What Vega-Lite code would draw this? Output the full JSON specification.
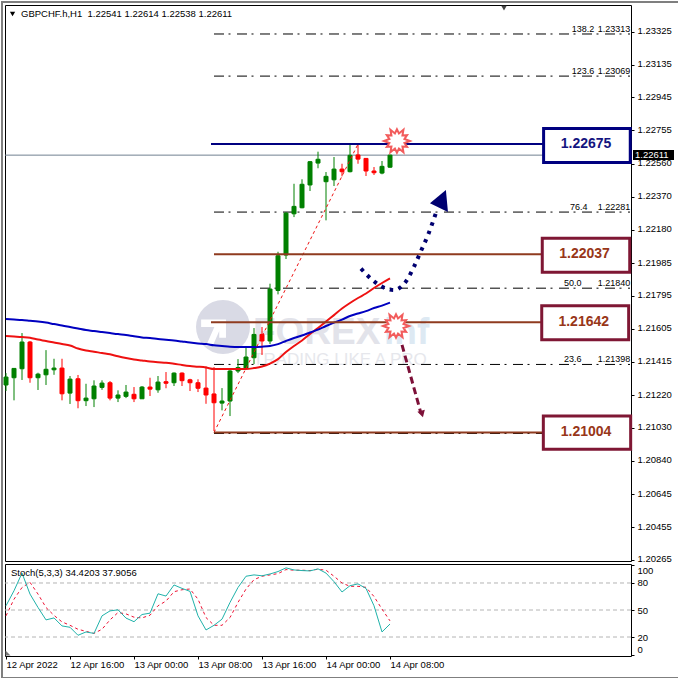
{
"$schema":"https://vega.github.io/schema/vega-lite/v6.json",
"padding":0,
"background":"white",
"bounds":"flush",
"spacing":3,
"config":{"view":{"stroke":"#000000","strokeWidth":1},"font":"Liberation Sans","text":{"font":"Liberation Sans"},"axis":{"labelFont":"Liberation Sans"}},
"datasets":{
"bars":[
{"t":"2022-04-12T08:00:00Z","o":1.21279,"h":1.21348,"l":1.21244,"c":1.21325,"ma1":1.21563,"ma2":1.21661,"k":54.7,"d":43.5},
{"t":"2022-04-12T09:00:00Z","o":1.21321,"h":1.21377,"l":1.2119,"c":1.21375,"ma1":1.2156,"ma2":1.21658,"k":71.4,"d":62},
{"t":"2022-04-12T10:00:00Z","o":1.21373,"h":1.2158,"l":1.21308,"c":1.21528,"ma1":1.21557,"ma2":1.21655,"k":91,"d":75},
{"t":"2022-04-12T11:00:00Z","o":1.21528,"h":1.21534,"l":1.21292,"c":1.21321,"ma1":1.21553,"ma2":1.21651,"k":67.7,"d":80.7},
{"t":"2022-04-12T12:00:00Z","o":1.21321,"h":1.2135,"l":1.2125,"c":1.21342,"ma1":1.21542,"ma2":1.21647,"k":52.8,"d":67.7},
{"t":"2022-04-12T13:00:00Z","o":1.21338,"h":1.21481,"l":1.21279,"c":1.2137,"ma1":1.21534,"ma2":1.21641,"k":39,"d":52.8},
{"t":"2022-04-12T14:00:00Z","o":1.21367,"h":1.21431,"l":1.21338,"c":1.21377,"ma1":1.21525,"ma2":1.21632,"k":41.2,"d":44},
{"t":"2022-04-12T15:00:00Z","o":1.21377,"h":1.21431,"l":1.2119,"c":1.21228,"ma1":1.21516,"ma2":1.21624,"k":32.3,"d":36.8},
{"t":"2022-04-12T16:00:00Z","o":1.21232,"h":1.21331,"l":1.21169,"c":1.21313,"ma1":1.21508,"ma2":1.21615,"k":30.8,"d":33},
{"t":"2022-04-12T17:00:00Z","o":1.21315,"h":1.21337,"l":1.21144,"c":1.21188,"ma1":1.2149,"ma2":1.21606,"k":21.9,"d":28.6},
{"t":"2022-04-12T18:00:00Z","o":1.21188,"h":1.21286,"l":1.21157,"c":1.21203,"ma1":1.21479,"ma2":1.21597,"k":25.6,"d":26.3},
{"t":"2022-04-12T19:00:00Z","o":1.21199,"h":1.21306,"l":1.21151,"c":1.21273,"ma1":1.21472,"ma2":1.21592,"k":24,"d":24},
{"t":"2022-04-12T20:00:00Z","o":1.21265,"h":1.21306,"l":1.21251,"c":1.2129,"ma1":1.21464,"ma2":1.21586,"k":43.5,"d":28.6},
{"t":"2022-04-12T21:00:00Z","o":1.21292,"h":1.21302,"l":1.2119,"c":1.21203,"ma1":1.21457,"ma2":1.2158,"k":49,"d":39},
{"t":"2022-04-12T22:00:00Z","o":1.21203,"h":1.21248,"l":1.2118,"c":1.21221,"ma1":1.21445,"ma2":1.21574,"k":50.2,"d":47.2},
{"t":"2022-04-12T23:00:00Z","o":1.21213,"h":1.21279,"l":1.21203,"c":1.21238,"ma1":1.21435,"ma2":1.21569,"k":41,"d":45.7},
{"t":"2022-04-13T00:00:00Z","o":1.21225,"h":1.21267,"l":1.2118,"c":1.21199,"ma1":1.21427,"ma2":1.21561,"k":37,"d":42},
{"t":"2022-04-13T01:00:00Z","o":1.21199,"h":1.21273,"l":1.21199,"c":1.21267,"ma1":1.21421,"ma2":1.21554,"k":45,"d":41.2},
{"t":"2022-04-13T02:00:00Z","o":1.21267,"h":1.21321,"l":1.21215,"c":1.21255,"ma1":1.21415,"ma2":1.21551,"k":46.5,"d":44.2},
{"t":"2022-04-13T03:00:00Z","o":1.21251,"h":1.21331,"l":1.21234,"c":1.21296,"ma1":1.21411,"ma2":1.21545,"k":68,"d":54.7},
{"t":"2022-04-13T04:00:00Z","o":1.21298,"h":1.21354,"l":1.2126,"c":1.21289,"ma1":1.21408,"ma2":1.21541,"k":65.5,"d":59.9},
{"t":"2022-04-13T05:00:00Z","o":1.21292,"h":1.21352,"l":1.21273,"c":1.21348,"ma1":1.21402,"ma2":1.21537,"k":77.8,"d":70.3},
{"t":"2022-04-13T06:00:00Z","o":1.21348,"h":1.21352,"l":1.21273,"c":1.21304,"ma1":1.21395,"ma2":1.21531,"k":74,"d":72.5},
{"t":"2022-04-13T07:00:00Z","o":1.21309,"h":1.21315,"l":1.21244,"c":1.21292,"ma1":1.21389,"ma2":1.21525,"k":70.7,"d":73.3},
{"t":"2022-04-13T08:00:00Z","o":1.21292,"h":1.21312,"l":1.21238,"c":1.2126,"ma1":1.21385,"ma2":1.2152,"k":43.5,"d":62},
{"t":"2022-04-13T09:00:00Z","o":1.21261,"h":1.21387,"l":1.2117,"c":1.21221,"ma1":1.2138,"ma2":1.21516,"k":27.8,"d":41.6},
{"t":"2022-04-13T10:00:00Z","o":1.21227,"h":1.21383,"l":1.21012,"c":1.21176,"ma1":1.21371,"ma2":1.21509,"k":33,"d":33},
{"t":"2022-04-13T11:00:00Z","o":1.21174,"h":1.21261,"l":1.21132,"c":1.21186,"ma1":1.21371,"ma2":1.21505,"k":39.8,"d":33},
{"t":"2022-04-13T12:00:00Z","o":1.21186,"h":1.21371,"l":1.21099,"c":1.2136,"ma1":1.21371,"ma2":1.21501,"k":58.4,"d":41.6},
{"t":"2022-04-13T13:00:00Z","o":1.2136,"h":1.21429,"l":1.21348,"c":1.2138,"ma1":1.21371,"ma2":1.21499,"k":75,"d":58.4},
{"t":"2022-04-13T14:00:00Z","o":1.21377,"h":1.21505,"l":1.21371,"c":1.21441,"ma1":1.21371,"ma2":1.21499,"k":87.5,"d":73.3},
{"t":"2022-04-13T15:00:00Z","o":1.21437,"h":1.21609,"l":1.214,"c":1.21572,"ma1":1.21377,"ma2":1.21499,"k":89,"d":83.7},
{"t":"2022-04-13T16:00:00Z","o":1.21572,"h":1.21615,"l":1.21453,"c":1.21534,"ma1":1.21386,"ma2":1.21501,"k":88,"d":87.5},
{"t":"2022-04-13T17:00:00Z","o":1.21534,"h":1.21866,"l":1.21516,"c":1.21835,"ma1":1.21403,"ma2":1.21505,"k":90,"d":89},
{"t":"2022-04-13T18:00:00Z","o":1.21827,"h":1.22051,"l":1.21804,"c":1.22028,"ma1":1.21429,"ma2":1.21516,"k":92.7,"d":90.4},
{"t":"2022-04-13T19:00:00Z","o":1.22032,"h":1.22281,"l":1.22009,"c":1.22275,"ma1":1.2147,"ma2":1.21534,"k":96.8,"d":94.9},
{"t":"2022-04-13T20:00:00Z","o":1.22271,"h":1.22445,"l":1.22252,"c":1.22314,"ma1":1.21505,"ma2":1.21551,"k":94.5,"d":94.2},
{"t":"2022-04-13T21:00:00Z","o":1.22306,"h":1.22471,"l":1.22303,"c":1.22442,"ma1":1.21537,"ma2":1.21566,"k":93.8,"d":94.2},
{"t":"2022-04-13T22:00:00Z","o":1.22438,"h":1.22577,"l":1.22403,"c":1.22573,"ma1":1.21574,"ma2":1.21583,"k":93.4,"d":93.8},
{"t":"2022-04-13T23:00:00Z","o":1.22565,"h":1.22631,"l":1.22535,"c":1.22587,"ma1":1.21609,"ma2":1.216,"k":95.7,"d":95.3},
{"t":"2022-04-14T00:00:00Z","o":1.22457,"h":1.22513,"l":1.22233,"c":1.22488,"ma1":1.21647,"ma2":1.21621,"k":91,"d":94.2},
{"t":"2022-04-14T01:00:00Z","o":1.22468,"h":1.226,"l":1.22432,"c":1.2253,"ma1":1.21684,"ma2":1.2164,"k":81.5,"d":87.5},
{"t":"2022-04-14T02:00:00Z","o":1.2253,"h":1.22561,"l":1.22488,"c":1.22515,"ma1":1.21722,"ma2":1.21658,"k":70,"d":80},
{"t":"2022-04-14T03:00:00Z","o":1.22515,"h":1.2267,"l":1.22511,"c":1.2261,"ma1":1.21754,"ma2":1.21679,"k":77,"d":76.3},
{"t":"2022-04-14T04:00:00Z","o":1.22612,"h":1.2267,"l":1.22561,"c":1.22588,"ma1":1.21783,"ma2":1.21693,"k":79,"d":76.3},
{"t":"2022-04-14T05:00:00Z","o":1.22592,"h":1.22594,"l":1.2249,"c":1.22519,"ma1":1.21809,"ma2":1.21707,"k":74,"d":75.2},
{"t":"2022-04-14T06:00:00Z","o":1.22519,"h":1.22542,"l":1.22496,"c":1.22509,"ma1":1.21841,"ma2":1.21725,"k":54.7,"d":65},
{"t":"2022-04-14T07:00:00Z","o":1.22507,"h":1.22577,"l":1.225,"c":1.22546,"ma1":1.2187,"ma2":1.21739,"k":25.6,"d":51},
{"t":"2022-04-14T08:00:00Z","o":1.22541,"h":1.22614,"l":1.22538,"c":1.22611,"ma1":1.21897,"ma2":1.21756,"k":34.42,"d":37.91}
],
"fib":[
{"level":"138.2","price":"1.23313","p":1.23313,"tl":"2022-04-15T06:43:00Z"},
{"level":"123.6","price":"1.23069","p":1.23069,"tl":"2022-04-15T06:43:00Z"},
{"level":"76.4","price":"1.22281","p":1.22281,"tl":"2022-04-15T06:30:00Z"},
{"level":"50.0","price":"1.21840","p":1.2184,"tl":"2022-04-15T05:45:00Z"},
{"level":"23.6","price":"1.21398","p":1.21398,"tl":"2022-04-15T05:45:00Z"},
{"level":"","price":"","p":1.20998,"tl":"2022-04-15T05:45:00Z"}
],
"navyLevel":[{"label":"1.22675","p":1.22675,"ts":"2022-04-13T09:37:30Z","te":"2022-04-15T03:12:00Z","tr":"2022-04-15T14:02:00Z","tt":"2022-04-15T08:30:00Z","top":1.22766,"bot":1.22569}],
"brownLevels":[
{"label":"1.22037","p":1.22037,"ts":"2022-04-13T10:00:00Z","te":"2022-04-15T03:02:00Z","tr":"2022-04-15T13:58:00Z","tt":"2022-04-15T08:19:00Z","top":1.22129,"bot":1.21932},
{"label":"1.21642","p":1.21642,"ts":"2022-04-13T09:37:30Z","te":"2022-04-15T02:58:00Z","tr":"2022-04-15T13:50:00Z","tt":"2022-04-15T08:13:00Z","top":1.21738,"bot":1.21541},
{"label":"1.21004","p":1.21004,"ts":"2022-04-13T10:00:00Z","te":"2022-04-15T03:10:00Z","tr":"2022-04-15T14:05:00Z","tt":"2022-04-15T08:30:00Z","top":1.21099,"bot":1.20906}
],
"fibTrend":[{"t":"2022-04-13T10:00:00Z","p":1.21004},{"t":"2022-04-14T04:00:00Z","p":1.22675}],
"upPath":[
{"t":"2022-04-14T04:22:30Z","p":1.21953},{"t":"2022-04-14T05:43:00Z","p":1.21891},{"t":"2022-04-14T07:05:00Z","p":1.21847},{"t":"2022-04-14T08:28:00Z","p":1.21829},{"t":"2022-04-14T09:22:00Z","p":1.21847},{"t":"2022-04-14T10:05:00Z","p":1.21885},{"t":"2022-04-14T11:02:00Z","p":1.21968},{"t":"2022-04-14T11:52:00Z","p":1.22055},{"t":"2022-04-14T12:47:00Z","p":1.22152},{"t":"2022-04-14T13:45:00Z","p":1.22277}
],
"downPath":[{"t":"2022-04-14T09:30:00Z","p":1.21511},{"t":"2022-04-14T11:52:00Z","p":1.21116}],
"stars":[{"t":"2022-04-14T08:52:00Z","p":1.22693},{"t":"2022-04-14T08:45:00Z","p":1.21621}],
"current":[{"p":1.22611,"label":"1.22611","t1":"2022-04-15T14:22:30Z","t2":"2022-04-15T19:30:00Z","tt":"2022-04-15T14:37:30Z","top":1.22641,"bot":1.22583}],
"frameMain":[
{"t1":"2022-04-12T07:22:30Z","t2":"2022-04-12T07:37:30Z","p1":1.23504,"p2":1.20241},
{"t1":"2022-04-12T07:22:30Z","t2":"2022-04-15T20:07:30Z","p1":1.23504,"p2":1.23492}
],
"frameSub":[
{"t1":"2022-04-12T07:22:30Z","t2":"2022-04-12T07:37:30Z","v1":101,"v2":-26.7},
{"t1":"2022-04-12T07:22:30Z","t2":"2022-04-15T20:07:30Z","v1":-24.4,"v2":-26.7}
],
"grid":[{"v":20},{"v":50},{"v":80}]
},
"vconcat":[
{
"width":626,"height":556,
"resolve":{"axis":{"x":"independent","y":"independent"}},
"layer":[
{"data":{"name":"frameMain"},"mark":{"type":"rect","fill":"#7f7f7f","stroke":null},
 "encoding":{"x":{"field":"t1","type":"temporal","axis":null,"scale":{"type":"utc","domain":[1649749950000,1650031650000],"padding":0}},"x2":{"field":"t2"},
 "y":{"field":"p1","type":"quantitative","scale":{"domain":[1.20259,1.23481],"zero":false,"nice":false},"title":null,
  "axis":{"orient":"right","title":null,"values":[1.23325,1.23135,1.22945,1.22755,1.2256,1.2237,1.2218,1.21985,1.21795,1.21605,1.21415,1.2122,1.2103,1.2084,1.20645,1.20455,1.20265],"format":".5f","grid":false,"domain":false,"tickColor":"#000","tickSize":3,"labelPadding":3,"labelColor":"#000","labelFontSize":9.5,"labelOffset":-1,"labelOverlap":false,"labelBound":false,"labelFlush":false}},
 "y2":{"field":"p2"}}},
{"data":{"values":[{"t":"2022-04-13T11:07:30Z","p":1.21615}]},"mark":{"type":"point","filled":true,"fill":"#d9dae5","stroke":null,"opacity":1,"size":2916,"shape":"circle"},
 "encoding":{"x":{"field":"t","type":"temporal","axis":null},"y":{"field":"p","type":"quantitative","axis":null}}},
{"data":{"values":[{"t":"2022-04-13T11:07:30Z","p":1.21615}]},"mark":{"type":"point","filled":true,"fill":"#ffffff","stroke":null,"opacity":1,"size":2916,"shape":"M -.81 -.28 L .11 -.28 L .11 .4 L -.14 .4 L -.14 .15 L -.38 .7 L -.63 .7 L -.32 0 L -.81 0 Z"},
 "encoding":{"x":{"field":"t","type":"temporal","axis":null},"y":{"field":"p","type":"quantitative","axis":null}}},
{"data":{"values":[{"t":"2022-04-13T14:52:30Z","p":1.2158,"s":"FOREX"}]},"mark":{"type":"text","align":"left","baseline":"middle","font":"Liberation Sans","fontWeight":"bold","fontSize":37,"fill":"#e2e3ea"},
 "encoding":{"x":{"field":"t","type":"temporal","axis":null},"y":{"field":"p","type":"quantitative","axis":null},"text":{"field":"s"}}},
{"data":{"values":[{"t":"2022-04-14T07:15:00Z","p":1.2158,"s":"inf"}]},"mark":{"type":"text","align":"left","baseline":"middle","font":"Liberation Sans","fontWeight":"bold","fontSize":37,"fill":"#dde9f3"},
 "encoding":{"x":{"field":"t","type":"temporal","axis":null},"y":{"field":"p","type":"quantitative","axis":null},"text":{"field":"s"}}},
{"data":{"values":[{"t":"2022-04-13T14:52:30Z","p":1.21423,"s":"TRADING LIKE A PRO"}]},"mark":{"type":"text","align":"left","baseline":"middle","font":"Liberation Sans","fontSize":17,"fill":"#e6e7ec"},
 "encoding":{"x":{"field":"t","type":"temporal","axis":null},"y":{"field":"p","type":"quantitative","axis":null},"text":{"field":"s"}}},
{"data":{"name":"fib"},"mark":{"type":"rule","stroke":"#000000","strokeWidth":1,"strokeDash":[10,4.5,2,6.5]},
 "encoding":{"x":{"datum":{"expr":"datetime(utc(2022,3,13,10,0,0))"},"type":"temporal","axis":null},"x2":{"datum":{"expr":"datetime(utc(2022,3,15,14,0,0))"}},"y":{"field":"p","type":"quantitative","axis":null}}},
{"data":{"name":"fib"},"mark":{"type":"text","align":"left","baseline":"alphabetic","dy":-2,"fontSize":9,"fill":"#000"},
 "encoding":{"x":{"field":"tl","type":"temporal","axis":null},"y":{"field":"p","type":"quantitative","axis":null},"text":{"field":"level"}}},
{"data":{"name":"fib"},"mark":{"type":"text","align":"right","baseline":"alphabetic","dy":-2,"fontSize":9,"fill":"#000"},
 "encoding":{"x":{"datum":{"expr":"datetime(utc(2022,3,15,14,2,0))"},"type":"temporal","axis":null},"y":{"field":"p","type":"quantitative","axis":null},"text":{"field":"price"}}},
{"data":{"name":"current"},"mark":{"type":"rule","stroke":"#708090","strokeWidth":1},
 "encoding":{"y":{"field":"p","type":"quantitative","axis":null}}},
{"data":{"name":"bars"},"mark":{"type":"rule","strokeWidth":1},
 "encoding":{"x":{"field":"t","type":"temporal","axis":null},"y":{"field":"l","type":"quantitative","axis":null},"y2":{"field":"h"},
 "color":{"condition":{"test":"datum.c>=datum.o","value":"#008000"},"value":"#ff0000"}}},
{"data":{"name":"bars"},"mark":{"type":"bar","size":4,"strokeWidth":1},
 "encoding":{"x":{"field":"t","type":"temporal","axis":null,"scale":{"padding":0}},"y":{"field":"o","type":"quantitative","axis":null},"y2":{"field":"c"},
 "fill":{"condition":{"test":"datum.c>=datum.o","value":"#008000"},"value":"#ff0000"},
 "stroke":{"condition":{"test":"datum.c>=datum.o","value":"#008000"},"value":"#ff0000"}}},
{"data":{"name":"bars"},"mark":{"type":"line","stroke":"#ee1111","strokeWidth":2,"interpolate":"monotone"},
 "encoding":{"x":{"field":"t","type":"temporal","axis":null},"y":{"field":"ma1","type":"quantitative","axis":null}}},
{"data":{"name":"bars"},"mark":{"type":"line","stroke":"#0000c0","strokeWidth":2,"interpolate":"monotone"},
 "encoding":{"x":{"field":"t","type":"temporal","axis":null},"y":{"field":"ma2","type":"quantitative","axis":null}}},
{"data":{"name":"fibTrend"},"mark":{"type":"line","stroke":"#ee1111","strokeWidth":1,"strokeDash":[3,3]},
 "encoding":{"x":{"field":"t","type":"temporal","axis":null},"y":{"field":"p","type":"quantitative","axis":null}}},
{"data":{"name":"navyLevel"},"mark":{"type":"rule","stroke":"#000080","strokeWidth":2},
 "encoding":{"x":{"field":"ts","type":"temporal","axis":null},"x2":{"field":"te"},"y":{"field":"p","type":"quantitative","axis":null}}},
{"data":{"name":"brownLevels"},"mark":{"type":"rule","stroke":"#8f3b1f","strokeWidth":2},
 "encoding":{"x":{"field":"ts","type":"temporal","axis":null},"x2":{"field":"te"},"y":{"field":"p","type":"quantitative","axis":null}}},
{"data":{"name":"navyLevel"},"mark":{"type":"rect","fill":"#ffffff","stroke":"#000080","strokeWidth":3},
 "encoding":{"x":{"field":"te","type":"temporal","axis":null},"x2":{"field":"tr"},"y":{"field":"top","type":"quantitative","axis":null},"y2":{"field":"bot"}}},
{"data":{"name":"brownLevels"},"mark":{"type":"rect","fill":"#ffffff","stroke":"#7f1734","strokeWidth":3},
 "encoding":{"x":{"field":"te","type":"temporal","axis":null},"x2":{"field":"tr"},"y":{"field":"top","type":"quantitative","axis":null},"y2":{"field":"bot"}}},
{"data":{"name":"navyLevel"},"mark":{"type":"text","fontWeight":"bold","fontSize":14,"fill":"#14147f","baseline":"middle"},
 "encoding":{"x":{"field":"tt","type":"temporal","axis":null},"y":{"field":"p","type":"quantitative","axis":null},"text":{"field":"label"}}},
{"data":{"name":"brownLevels"},"mark":{"type":"text","fontWeight":"bold","fontSize":14,"fill":"#983618","baseline":"middle"},
 "encoding":{"x":{"field":"tt","type":"temporal","axis":null},"y":{"field":"p","type":"quantitative","axis":null},"text":{"field":"label"}}},
{"data":{"name":"upPath"},"mark":{"type":"line","stroke":"#000070","strokeWidth":4,"strokeDash":[3.5,5.5],"interpolate":"monotone"},
 "encoding":{"x":{"field":"t","type":"temporal","axis":null,"sort":null},"y":{"field":"p","type":"quantitative","axis":null}}},
{"data":{"values":[{"t":"2022-04-14T14:22:00Z","p":1.22345}]},"mark":{"type":"point","filled":true,"fill":"#000070","stroke":null,"opacity":1,"size":484,"shape":"M .45 -1 L -1 .2 L .64 1 Z"},
 "encoding":{"x":{"field":"t","type":"temporal","axis":null},"y":{"field":"p","type":"quantitative","axis":null}}},
{"data":{"name":"downPath"},"mark":{"type":"line","stroke":"#7d1038","strokeWidth":3,"strokeDash":[7,4]},
 "encoding":{"x":{"field":"t","type":"temporal","axis":null},"y":{"field":"p","type":"quantitative","axis":null}}},
{"data":{"values":[{"t":"2022-04-14T12:00:00Z","p":1.21111}]},"mark":{"type":"point","filled":true,"fill":"#7d1038","stroke":null,"opacity":1,"size":60,"shape":"triangle-down","angle":-16},
 "encoding":{"x":{"field":"t","type":"temporal","axis":null},"y":{"field":"p","type":"quantitative","axis":null}}},
{"data":{"name":"stars"},"mark":{"type":"point","fill":"#ffffff","stroke":"#f25c5c","strokeWidth":2,"opacity":1,"fillOpacity":1,"size":676,"shape":"M 1 0 L .58 .155 L .78 .45 L .424 .424 L .5 .866 L .155 .58 L 0 .9 L -.155 .58 L -.5 .866 L -.424 .424 L -.78 .45 L -.58 .155 L -1 0 L -.58 -.155 L -.78 -.45 L -.424 -.424 L -.5 -.866 L -.155 -.58 L 0 -.9 L .155 -.58 L .5 -.866 L .424 -.424 L .78 -.45 L .58 -.155 Z"},
 "encoding":{"x":{"field":"t","type":"temporal","axis":null},"y":{"field":"p","type":"quantitative","axis":null}}},
{"data":{"name":"current"},"mark":{"type":"rect","fill":"#000000","stroke":null},
 "encoding":{"x":{"field":"t1","type":"temporal","axis":null},"x2":{"field":"t2"},"y":{"field":"top","type":"quantitative","axis":null},"y2":{"field":"bot"}}},
{"data":{"name":"current"},"mark":{"type":"text","align":"left","baseline":"middle","fontSize":9.5,"fill":"#ffffff"},
 "encoding":{"x":{"field":"tt","type":"temporal","axis":null},"y":{"field":"p","type":"quantitative","axis":null},"text":{"field":"label"}}},
{"data":{"values":[{"t":"2022-04-12T08:49:00Z","p":1.23429}]},"mark":{"type":"point","filled":true,"fill":"#000","stroke":null,"opacity":1,"size":28,"shape":"triangle-down"},
 "encoding":{"x":{"field":"t","type":"temporal","axis":null},"y":{"field":"p","type":"quantitative","axis":null}}},
{"data":{"values":[{"t":"2022-04-14T22:15:00Z","p":1.23463}]},"mark":{"type":"point","filled":true,"fill":"#444","stroke":null,"opacity":1,"size":30,"shape":"triangle-down"},
 "encoding":{"x":{"field":"t","type":"temporal","axis":null},"y":{"field":"p","type":"quantitative","axis":null}}},
{"data":{"values":[{"t":"2022-04-12T09:52:30Z","p":1.23429,"s":"GBPCHF.h,H1\u00a0\u00a01.22541 1.22614 1.22538 1.22611"}]},"mark":{"type":"text","align":"left","baseline":"middle","fontSize":9.5,"fill":"#000"},
 "encoding":{"x":{"field":"t","type":"temporal","axis":null},"y":{"field":"p","type":"quantitative","axis":null},"text":{"field":"s"}}}
]
},
{
"width":626,"height":92,
"resolve":{"axis":{"x":"independent","y":"independent"}},
"layer":[
{"data":{"name":"frameSub"},"mark":{"type":"rect","fill":"#7f7f7f","stroke":null},
 "encoding":{"x":{"field":"t1","type":"temporal","scale":{"type":"utc","domain":[1649749950000,1650031650000]},"title":null,
  "axis":{"title":null,"values":[1649750400000,1649779200000,1649808000000,1649836800000,1649865600000,1649894400000,1649923200000],"labelExpr":"datum.index==0?'12 Apr 2022':utcFormat(datum.value,'%d %b %H:%M')","grid":false,"domain":false,"tickColor":"#000","tickSize":3,"labelAlign":"left","labelBaseline":"middle","labelPadding":5,"labelAngle":0,"labelColor":"#000","labelFontSize":9.5,"labelOverlap":false,"labelBound":false,"labelFlush":false}},"x2":{"field":"t2"},
 "y":{"field":"v1","type":"quantitative","scale":{"domain":[-1.1,101.1],"zero":false,"nice":false},"title":null,
  "axis":{"orient":"right","title":null,"values":[0,20,50,80,100],"grid":false,"domain":false,"tickColor":"#000","tickSize":3,"labelPadding":3,"labelColor":"#000","labelFontSize":9.5,"labelOverlap":false,"labelBound":false,"labelFlush":false,"labelOffset":{"condition":[{"test":"datum.value==100","value":6},{"test":"datum.value==0","value":-6}],"value":0}}},
 "y2":{"field":"v2"}}},
{"data":{"name":"grid"},"mark":{"type":"rule","stroke":"#b4b4b4","strokeWidth":1,"strokeDash":[4,3]},
 "encoding":{"y":{"field":"v","type":"quantitative","axis":null}}},
{"data":{"name":"bars"},"mark":{"type":"line","stroke":"#ee1133","strokeWidth":1,"strokeDash":[3,3]},
 "encoding":{"x":{"field":"t","type":"temporal","axis":null},"y":{"field":"d","type":"quantitative","axis":null}}},
{"data":{"name":"bars"},"mark":{"type":"line","stroke":"#20b2aa","strokeWidth":1},
 "encoding":{"x":{"field":"t","type":"temporal","axis":null},"y":{"field":"k","type":"quantitative","axis":null}}},
{"data":{"values":[{"t":"2022-04-12T08:15:00Z","v":2.2}]},"mark":{"type":"point","filled":true,"fill":"#777","stroke":null,"opacity":1,"size":25,"shape":"M -1 1 L -1 -1 L 1 1 Z"},
 "encoding":{"x":{"field":"t","type":"temporal","axis":null},"y":{"field":"v","type":"quantitative","axis":null}}},
{"data":{"values":[{"t":"2022-04-12T08:37:30Z","v":91,"s":"Stoch(5,3,3) 34.4203 37.9056"}]},"mark":{"type":"text","align":"left","baseline":"middle","fontSize":9.5,"fill":"#000"},
 "encoding":{"x":{"field":"t","type":"temporal","axis":null},"y":{"field":"v","type":"quantitative","axis":null},"text":{"field":"s"}}}
]
}
]
}
